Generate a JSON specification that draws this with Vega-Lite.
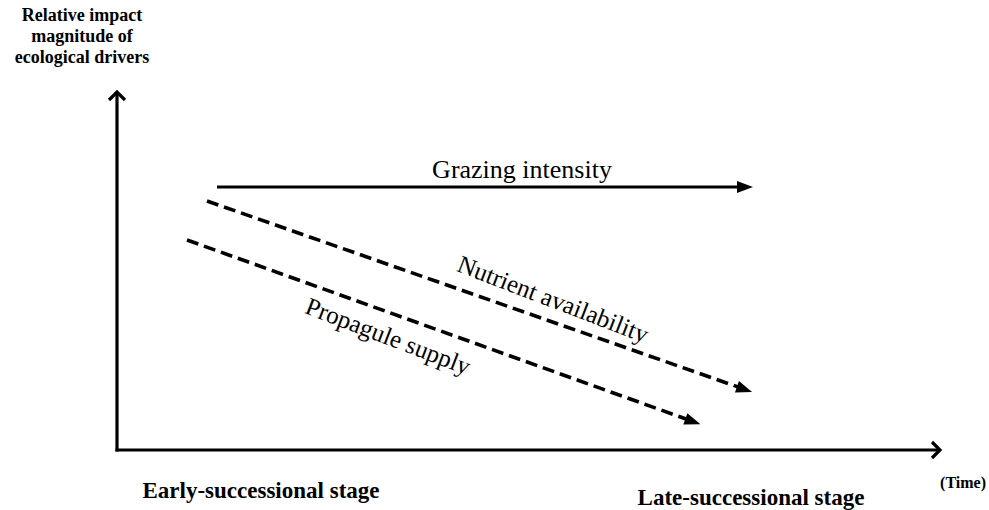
{
  "$schema": "https://vega.github.io/schema/vega-lite/v6.json",
  "width": 989,
  "height": 510,
  "autosize": {"type": "fit", "contains": "padding"},
  "padding": 0,
  "background": "white",
  "config": {"view": {"stroke": null}},
  "datasets": {
    "lines": [
      {"name": "y-axis", "style": "solid", "x": 117, "y": 451.5, "x2": 117, "y2": 93},
      {"name": "x-axis", "style": "solid", "x": 115.5, "y": 450, "x2": 939, "y2": 450},
      {"name": "Grazing intensity", "style": "solid", "x": 217, "y": 187, "x2": 745, "y2": 187},
      {"name": "Nutrient availability", "style": "dashed", "x": 207, "y": 201, "x2": 745, "y2": 389.4},
      {"name": "Propagule supply", "style": "dashed", "x": 187, "y": 240, "x2": 693, "y2": 421.5}
    ],
    "axisHeads": [
      {"name": "y-axis", "x": 117, "y": 92, "dir": -90},
      {"name": "x-axis", "x": 940, "y": 450, "dir": 0}
    ],
    "lineHeads": [
      {"name": "Grazing intensity", "x": 745, "y": 187, "dir": 0},
      {"name": "Nutrient availability", "x": 744.5, "y": 389.4, "dir": 19.3},
      {"name": "Propagule supply", "x": 692.9, "y": 421.5, "dir": 19.7}
    ],
    "plainLabels": [
      {"label": "Grazing intensity", "x": 522, "y": 178}
    ],
    "slantLabels": [
      {"label": "Nutrient availability", "x": 550, "y": 307},
      {"label": "Propagule supply", "x": 385, "y": 344}
    ],
    "titleLabel": [
      {"label": "Relative impact\nmagnitude of\necological drivers", "x": 82, "y": 21}
    ],
    "stageLabels": [
      {"label": "Early-successional stage", "x": 261, "y": 498},
      {"label": "Late-successional stage", "x": 751, "y": 505}
    ],
    "timeLabel": [
      {"label": "(Time)", "x": 963, "y": 488}
    ]
  },
  "layer": [
    {
      "data": {"name": "lines"},
      "mark": {"type": "rule", "color": "black"},
      "encoding": {
        "x": {"field": "x", "type": "quantitative", "scale": {"domain": [0, 989], "nice": false, "zero": false}, "axis": null},
        "y": {"field": "y", "type": "quantitative", "scale": {"domain": [0, 510], "nice": false, "zero": false, "reverse": true}, "axis": null},
        "x2": {"field": "x2"},
        "y2": {"field": "y2"},
        "strokeDash": {"field": "style", "type": "nominal", "scale": {"domain": ["solid", "dashed"], "range": [[1, 0], [12, 6]]}, "legend": null},
        "strokeWidth": {"field": "style", "type": "nominal", "scale": {"domain": ["solid", "dashed"], "range": [3.2, 3.6]}, "legend": null}
      }
    },
    {
      "data": {"name": "axisHeads"},
      "mark": {"type": "point", "shape": "M -1,-1 L 0,0 L -1,1", "filled": false, "color": "black", "strokeWidth": 3.2, "size": 256, "strokeJoin": "miter", "opacity": 1},
      "encoding": {
        "x": {"field": "x", "type": "quantitative"},
        "y": {"field": "y", "type": "quantitative"},
        "angle": {"field": "dir", "type": "quantitative", "scale": null}
      }
    },
    {
      "data": {"name": "lineHeads"},
      "mark": {"type": "point", "shape": "M -1,-0.75 L 1,0 L -1,0.75 Z", "filled": true, "color": "black", "size": 256, "opacity": 1},
      "encoding": {
        "x": {"field": "x", "type": "quantitative"},
        "y": {"field": "y", "type": "quantitative"},
        "angle": {"field": "dir", "type": "quantitative", "scale": null}
      }
    },
    {
      "data": {"name": "plainLabels"},
      "mark": {"type": "text", "font": "Liberation Serif", "fontSize": 26, "color": "black", "align": "center", "baseline": "alphabetic"},
      "encoding": {
        "x": {"field": "x", "type": "quantitative"},
        "y": {"field": "y", "type": "quantitative"},
        "text": {"field": "label"}
      }
    },
    {
      "data": {"name": "slantLabels"},
      "mark": {"type": "text", "font": "Liberation Serif", "fontSize": 25, "color": "black", "align": "center", "baseline": "alphabetic", "angle": 21},
      "encoding": {
        "x": {"field": "x", "type": "quantitative"},
        "y": {"field": "y", "type": "quantitative"},
        "text": {"field": "label"}
      }
    },
    {
      "data": {"name": "titleLabel"},
      "mark": {"type": "text", "font": "Liberation Serif", "fontSize": 18, "fontWeight": "bold", "color": "black", "align": "center", "baseline": "alphabetic", "lineBreak": "\n", "lineHeight": 21},
      "encoding": {
        "x": {"field": "x", "type": "quantitative"},
        "y": {"field": "y", "type": "quantitative"},
        "text": {"field": "label"}
      }
    },
    {
      "data": {"name": "stageLabels"},
      "mark": {"type": "text", "font": "Liberation Serif", "fontSize": 23, "fontWeight": "bold", "color": "black", "align": "center", "baseline": "alphabetic"},
      "encoding": {
        "x": {"field": "x", "type": "quantitative"},
        "y": {"field": "y", "type": "quantitative"},
        "text": {"field": "label"}
      }
    },
    {
      "data": {"name": "timeLabel"},
      "mark": {"type": "text", "font": "Liberation Serif", "fontSize": 16, "fontWeight": "bold", "color": "black", "align": "center", "baseline": "alphabetic"},
      "encoding": {
        "x": {"field": "x", "type": "quantitative"},
        "y": {"field": "y", "type": "quantitative"},
        "text": {"field": "label"}
      }
    }
  ]
}
